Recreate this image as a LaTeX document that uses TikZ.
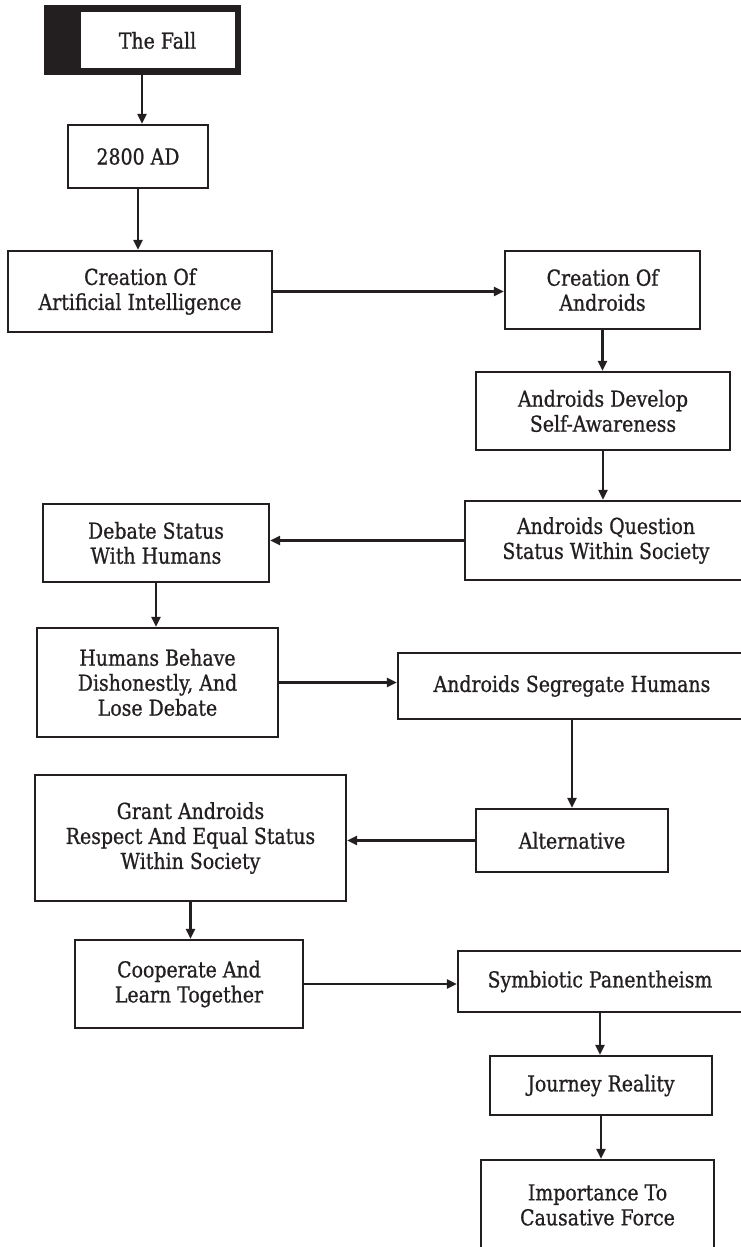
\documentclass[tikz,border=0pt]{standalone}
\usepackage{fontspec}
\setmainfont[FakeStretch=0.86,FakeBold=0.8]{DejaVu Serif}
\usetikzlibrary{arrows.meta}
\definecolor{ink}{HTML}{231F20}
\begin{document}
\begin{tikzpicture}[x=1pt,y=-1pt,
  box/.style={draw=ink, line width=2.4pt, align=center, inner sep=0pt, text=ink,
    font=\fontsize{22}{25}\selectfont},
  arr/.style={draw=ink, line width=2.4pt, -{Triangle[length=10pt,width=9pt]}}]
\useasboundingbox[fill=white] (0,0) rectangle (740,1247);
% The Fall
\node[draw=ink, fill=ink, line width=1pt, inner sep=0pt, minimum width=196pt, minimum height=68pt] (fall) at (142,40) {};
\node[box, fill=white, line width=1pt, minimum width=155pt, minimum height=57pt] (fallin) at (157.5,40.5) {The Fall};
% boxes
\node[box, minimum width=140pt, minimum height=63pt] (ad) at (138,156.5) {2800 AD};
\node[box, minimum width=264pt, minimum height=81pt] (ai) at (140,291.5) {Creation Of\\Artificial Intelligence};
\node[box, minimum width=195pt, minimum height=78pt] (andr) at (602.5,290) {Creation Of\\Androids};
\node[box, minimum width=254pt, minimum height=78pt] (aware) at (603,411) {Androids Develop\\Self-Awareness};
\node[box, minimum width=282pt, minimum height=79pt] (quest) at (606,540.5) {Androids Question\\Status Within Society};
\node[box, minimum width=226pt, minimum height=78pt] (debate) at (156,543) {Debate Status\\With Humans};
\node[box, minimum width=241pt, minimum height=109pt] (humans) at (157.5,682.5) {Humans Behave\\Dishonestly, And\\Lose Debate};
\node[box, minimum width=348pt, minimum height=66pt] (segr) at (572,686) {Androids Segregate Humans};
\node[box, minimum width=192pt, minimum height=63pt] (alt) at (572,840.5) {Alternative};
\node[box, minimum width=311pt, minimum height=126pt] (grant) at (190.5,838) {Grant Androids\\Respect And Equal Status\\Within Society};
\node[box, minimum width=228pt, minimum height=88pt] (coop) at (189,984) {Cooperate And\\Learn Together};
\node[box, minimum width=284pt, minimum height=61pt] (symb) at (600,981.5) {Symbiotic Panentheism};
\node[box, minimum width=222pt, minimum height=59pt] (journey) at (601,1085.5) {Journey Reality};
\node[box, minimum width=233pt, minimum height=90pt] (imp) at (597.5,1205) {Importance To\\Causative Force};
% connectors
\draw[arr] (fall.south) -- (fall.south |- ad.north);
\draw[arr] (ad.south) -- (ad.south |- ai.north);
\draw[arr] (ai.east) -- (ai.east -| andr.west);
\draw[arr] (andr.south) -- (andr.south |- aware.north);
\draw[arr] (aware.south) -- (aware.south |- quest.north);
\draw[arr] (quest.west) -- (quest.west -| debate.east);
\draw[arr] (debate.south) -- (debate.south |- humans.north);
\draw[arr] (humans.east) -- (humans.east -| segr.west);
\draw[arr] (segr.south) -- (segr.south |- alt.north);
\draw[arr] (alt.west) -- (alt.west -| grant.east);
\draw[arr] (grant.south) -- (grant.south |- coop.north);
\draw[arr] (coop.east) -- (coop.east -| symb.west);
\draw[arr] (symb.south) -- (symb.south |- journey.north);
\draw[arr] (journey.south) -- (journey.south |- imp.north);
\end{tikzpicture}
\end{document}
